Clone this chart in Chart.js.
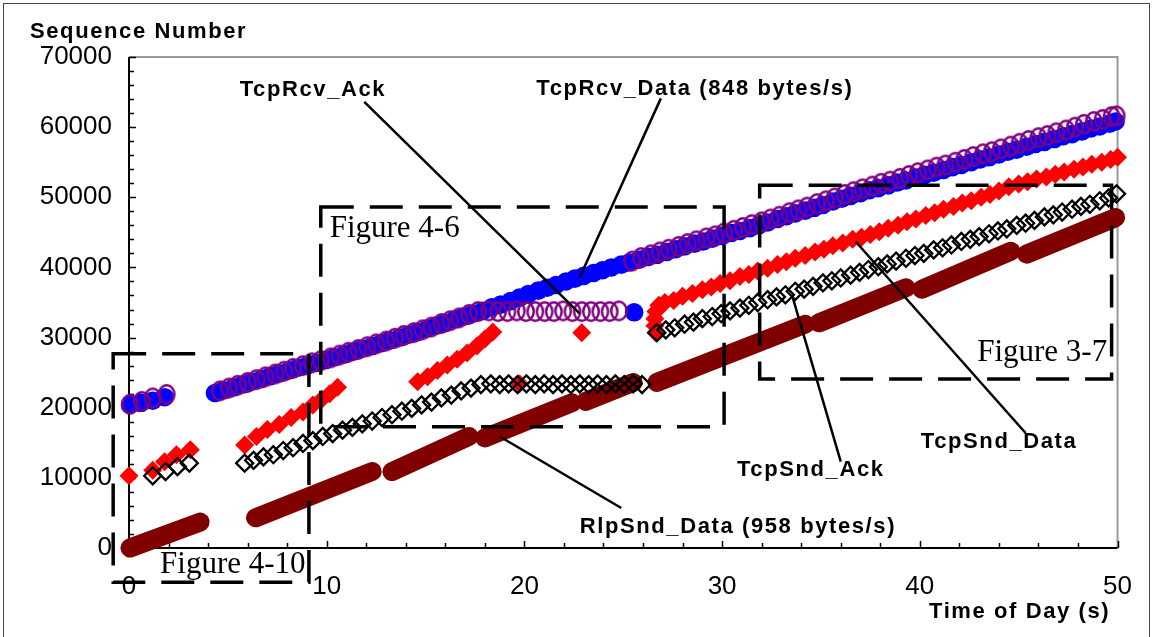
<!DOCTYPE html>
<html>
<head>
<meta charset="utf-8">
<script src="https://cdn.jsdelivr.net/npm/chart.js@4.4.1/dist/chart.umd.min.js"></script>
<style>
  html, body { margin: 0; padding: 0; background: #fff; }
  #wrap { position: relative; width: 1155px; height: 637px; overflow: hidden; }
</style>
</head>
<body>
<div id="wrap"><canvas id="chart" width="1155" height="637"></canvas></div>
<script>
// ---- Datos (tiempo en s, número de secuencia) ----

// TcpRcv_Data: círculos azules rellenos
const rcvDataT = [0.05, 0.6, 1.2, 1.8,
  4.35, 4.8, 5.3, 5.75, 6.2, 6.7, 7.15, 7.6, 8.1, 8.55, 9.0, 9.5, 9.95, 10.4, 10.9, 11.35,
  11.8, 12.3, 12.75, 13.2, 13.7, 14.15, 14.6, 15.1, 15.55, 16.0, 16.5, 16.95, 17.4, 17.9, 18.35,
  18.8, 19.3, 19.75, 20.2, 20.7, 21.15, 21.6, 22.1, 22.55, 23.0, 23.5, 23.95, 24.4, 24.9, 25.3,
  25.8, 26.25, 26.7, 27.2, 27.65, 28.1, 28.6, 29.05, 29.5, 30.0, 30.45, 30.9, 31.4, 31.85, 32.3,
  32.8, 33.25, 33.7, 34.2, 34.65, 35.1, 35.6, 36.05, 36.5, 37.0, 37.45, 37.9, 38.4, 38.85, 39.3,
  39.8, 40.25, 40.7, 41.2, 41.65, 42.1, 42.6, 43.05, 43.5, 44.0, 44.45, 44.9, 45.4, 45.85, 46.3,
  46.8, 47.25, 47.7, 48.2, 48.65, 49.1, 49.6, 49.9,
  25.55];
const rcvDataSeq = [20400, 20700, 21000, 21500,
  22100, 22500, 22900, 23300, 23700, 24100, 24500, 24900, 25300, 25700, 26000, 26400, 26800, 27200, 27600, 28000,
  28400, 28800, 29200, 29600, 30000, 30400, 30800, 31300, 31700, 32100, 32600, 33000, 33400, 33800, 34300,
  34700, 35200, 35700, 36200, 36700, 37100, 37500, 38000, 38400, 38800, 39200, 39600, 40000, 40400, 40700,
  41100, 41500, 41800, 42200, 42600, 43000, 43400, 43700, 44100, 44500, 44900, 45200, 45600, 46000, 46400,
  46900, 47300, 47700, 48100, 48500, 48900, 49400, 49800, 50200, 50600, 51000, 51300, 51700, 52100, 52400,
  52800, 53200, 53500, 53900, 54300, 54600, 55000, 55400, 55700, 56100, 56500, 56800, 57200, 57600, 57900,
  58300, 58700, 59000, 59400, 59800, 60100, 60500, 60800,
  33600];

// TcpRcv_Ack: círculos morados huecos
const rcvAckT = [0.05, 0.65, 1.2, 1.9,
  4.6, 5.05, 5.5, 6.0, 6.45, 6.9, 7.4, 7.85, 8.3, 8.8, 9.25, 9.7, 10.2, 10.65, 11.1, 11.6,
  12.05, 12.5, 13.0, 13.45, 13.9, 14.4, 14.85, 15.3, 15.8, 16.25, 16.7, 17.2, 17.65,
  18.2, 18.67, 19.14, 19.61, 20.08, 20.55, 21.02, 21.49, 21.96, 22.43, 22.9, 23.37, 23.84, 24.31, 24.78,
  25.45, 25.9, 26.4, 26.85, 27.3, 27.8, 28.25, 28.7, 29.2, 29.65, 30.1, 30.6, 31.05, 31.5, 32.0,
  32.45, 32.9, 33.4, 33.85, 34.3, 34.8, 35.25, 35.7, 36.2, 36.65, 37.1, 37.6, 38.05, 38.5, 39.0,
  39.45, 39.9, 40.4, 40.85, 41.3, 41.8, 42.25, 42.7, 43.2, 43.65, 44.1, 44.6, 45.05, 45.5, 46.0,
  46.45, 46.9, 47.4, 47.85, 48.3, 48.8, 49.25, 49.7, 49.95];
const rcvAckSeq = [20500, 20900, 21400, 21900,
  22400, 22800, 23200, 23600, 24000, 24400, 24800, 25200, 25600, 26000, 26400, 26700, 27100, 27500, 27900, 28300,
  28700, 29100, 29500, 29900, 30300, 30700, 31100, 31500, 32000, 32400, 32800, 33300, 33700,
  33800, 33700, 33700, 33800, 33700, 33700, 33700, 33700, 33800, 33700, 33700, 33700, 33700, 33700, 33800,
  40900, 41400, 41800, 42200, 42600, 43000, 43400, 43800, 44200, 44500, 44900, 45300, 45700, 46100, 46500,
  46900, 47300, 47800, 48200, 48600, 49100, 49500, 49900, 50400, 50800, 51200, 51600, 52000, 52300, 52700,
  53100, 53500, 53900, 54300, 54600, 55000, 55400, 55800, 56200, 56500, 56900, 57300, 57700, 58100, 58500,
  58800, 59200, 59600, 60000, 60400, 60800, 61100, 61500, 61600];

// TcpSnd_Data: rombos rojos rellenos
const sndDataT = [0.0,
  1.2, 1.8, 2.4, 3.1,
  5.85, 6.45, 7.0, 7.6, 8.2, 8.8, 9.3, 9.75, 10.15, 10.55,
  14.6, 15.1, 15.6, 16.1, 16.6, 17.1, 17.6, 18.0, 18.4,
  19.75, 22.9,
  26.65, 26.6, 26.6, 26.65, 26.8,
  27.1, 27.55, 28.0, 28.5, 29.0, 29.45, 29.9, 30.4, 30.9, 31.35, 31.8, 32.3, 32.8, 33.25, 33.7,
  34.2, 34.7, 35.15, 35.6, 36.1, 36.6, 37.05, 37.5, 37.95, 38.4, 38.9, 39.35, 39.8, 40.3, 40.75,
  41.2, 41.7, 42.15, 42.6, 43.1, 43.55, 44.0, 44.5, 45.0, 45.45, 45.9, 46.4, 46.85, 47.3, 47.8,
  48.25, 48.7, 49.2, 49.65, 50.0];
const sndDataSeq = [10300,
  11100, 12300, 13300, 14000,
  14700, 15900, 16900, 17600, 18600, 19400, 20400, 21200, 22000, 22900,
  23700, 24400, 25300, 26100, 26900, 27800, 28800, 29800, 30800,
  23400, 30700,
  30700, 31700, 32700, 33700, 34600,
  35000, 35300, 35900, 36300, 36800, 37200, 37700, 38100, 38700, 39000, 39500, 39900, 40400, 40800, 41300,
  41700, 42200, 42600, 43100, 43500, 44000, 44300, 44700, 45100, 45600, 46000, 46500, 46900, 47400, 47800,
  48300, 48700, 49200, 49500, 50000, 50400, 50900, 51500, 51900, 52200, 52600, 52900, 53300, 53600, 54000,
  54300, 54700, 55000, 55400, 55700];

// TcpSnd_Ack: rombos negros huecos
const sndAckT = [1.2, 1.85, 2.45, 3.05,
  5.85, 6.3, 6.8, 7.3, 7.8, 8.3, 8.8, 9.3, 9.8, 10.3, 10.8, 11.3, 11.8, 12.3, 12.8, 13.3,
  13.8, 14.3, 14.8, 15.3, 15.8, 16.3, 16.8, 17.3, 17.8,
  18.3, 18.75, 19.2, 19.65, 20.1, 20.55, 21.0, 21.45, 21.9, 22.35, 22.8, 23.25, 23.7, 24.15, 24.6,
  25.05, 25.5, 25.95,
  26.7, 27.15, 27.6, 28.1, 28.55, 29.0, 29.5, 29.95, 30.4, 30.9, 31.35, 31.8, 32.3, 32.75, 33.2,
  33.7, 34.15, 34.6, 35.1, 35.55, 36.0, 36.5, 36.95, 37.4, 37.9, 38.35, 38.8, 39.3, 39.75, 40.2,
  40.7, 41.15, 41.6, 42.1, 42.55, 43.0, 43.5, 43.95, 44.4, 44.9, 45.35, 45.8, 46.3, 46.75, 47.2,
  47.7, 48.15, 48.6, 49.1, 49.55, 49.95];
const sndAckSeq = [10300, 10900, 11600, 12100,
  12100, 12500, 13000, 13300, 13900, 14300, 14900, 15300, 15900, 16300, 16800, 17200, 17700, 18100, 18600, 19000,
  19500, 19900, 20400, 20800, 21400, 21800, 22400, 22800, 23300,
  23400, 23300, 23400, 23300, 23400, 23300, 23400, 23300, 23400, 23300, 23400, 23300, 23400, 23300, 23400,
  23300, 23400, 23300,
  30700, 31100, 31400, 31900, 32200, 32700, 33000, 33400, 33800, 34200, 34600, 35000, 35400, 35800, 36100,
  36600, 36900, 37300, 37800, 38100, 38500, 38900, 39300, 39700, 40100, 40500, 40900, 41300, 41700, 42000,
  42500, 42800, 43200, 43700, 44000, 44400, 44800, 45200, 45500, 46000, 46300, 46700, 47200, 47500, 47900,
  48300, 48700, 49000, 49500, 49900, 50500];

// RlpSnd_Data: tramos continuos (inicio/fin de cada tramo, null = hueco)
const rlpT = [0.05, 3.6, 3.9, 6.4, 12.3, 12.8, 13.3, 17.2, 17.6, 18.0, 22.4, 22.8, 23.1, 25.5, 26.1,
  26.7, 34.2, 34.5, 34.9, 39.3, 39.7, 40.1, 44.6, 45.0, 45.4, 49.9];
const rlpSeq = [0, 3700, null, 4300, 10900, null, 10900, 15900, null, 15700, 20700, null, 20900, 23600, null,
  23600, 31900, null, 32100, 37100, null, 36900, 42300, null, 41900, 47100];

// Ejes
const xLabelValues = [0, 10, 20, 30, 40, 50];
const yLabelValues = [0, 10000, 20000, 30000, 40000, 50000, 60000, 70000];

// Anotaciones (coordenadas de datos)
const seriesNotes = [
  { text: 'TcpRcv_Ack', at: [5.6, 64400], from: [11.9, 63600], to: [22.8, 33400] },
  { text: 'TcpRcv_Data (848 bytes/s)', at: [20.6, 64600], from: [26.9, 64100], to: [22.8, 38600] },
  { text: 'RlpSnd_Data (958 bytes/s)', at: [22.8, 2100], from: [24.9, 5700], to: [18.75, 15900] },
  { text: 'TcpSnd_Ack', at: [30.75, 10300], from: [36.0, 12300], to: [33.55, 35900] },
  { text: 'TcpSnd_Data', at: [40.05, 14300], from: [45.35, 16400], to: [36.75, 43700] }
];
const figureBoxes = [
  { text: 'Figure 4-10', x0: -0.8, x1: 9.1, y0: -4900, y1: 27700, at: [1.57, -3600] },
  { text: 'Figure 4-6', x0: 9.7, x1: 30.1, y0: 17300, y1: 48600, at: [10.15, 44300] },
  { text: 'Figure 3-7', x0: 31.9, x1: 49.7, y0: 24100, y1: 51700, at: [42.9, 26600] }
];

function toPoints(ts, ys) {
  return ts.map((t, i) => ({ x: t, y: ys[i] }));
}

// Círculo hueco algo ovalado, como en la figura original
function makeRing(w, h, color, lw) {
  const cv = document.createElement('canvas');
  cv.width = w + 4;
  cv.height = h + 4;
  const g = cv.getContext('2d');
  g.strokeStyle = color;
  g.lineWidth = lw;
  g.beginPath();
  g.ellipse(cv.width / 2, cv.height / 2, w / 2 - lw / 2, h / 2 - lw / 2, 0, 0, Math.PI * 2);
  g.stroke();
  return cv;
}
const purpleRing = makeRing(18, 21, '#800080', 2.5);

const BOLD = 'bold 22px "Liberation Sans", Arial, sans-serif';
const SERIF = '31px "Liberation Serif", "Times New Roman", serif';

// Marco del área, ticks interiores y títulos
const framePlugin = {
  id: 'frame',
  beforeDraw(chart) {
    const c = chart.ctx;
    c.save();
    c.strokeStyle = '#444';
    c.lineWidth = 1;
    c.strokeRect(3.5, 3.5, 1146, 700);
    c.restore();
  },
  beforeDatasetsDraw(chart) {
    const c = chart.ctx;
    const a = chart.chartArea;
    const xs = chart.scales.x;
    const ys = chart.scales.y;
    c.save();
    c.lineWidth = 2;
    c.strokeStyle = '#999';
    c.beginPath();
    c.moveTo(a.left, a.top);
    c.lineTo(a.right, a.top);
    c.lineTo(a.right, a.bottom);
    c.stroke();
    c.strokeStyle = '#000';
    c.beginPath();
    c.moveTo(a.left, a.top);
    c.lineTo(a.left, a.bottom);
    c.lineTo(a.right, a.bottom);
    c.stroke();
    c.lineWidth = 1.5;
    c.beginPath();
    ys.ticks.forEach(t => {
      const py = Math.round(ys.getPixelForValue(t.value)) + 0.5;
      const len = yLabelValues.includes(t.value) ? 7 : 5;
      c.moveTo(a.left, py);
      c.lineTo(a.left + len, py);
    });
    xs.ticks.forEach(t => {
      const px = Math.round(xs.getPixelForValue(t.value)) + 0.5;
      const len = xLabelValues.includes(t.value) ? 7 : 5;
      c.moveTo(px, a.bottom);
      c.lineTo(px, a.bottom - len);
    });
    c.stroke();
    c.restore();
  },
  afterDraw(chart) {
    const c = chart.ctx;
    c.save();
    c.fillStyle = '#000';
    c.font = BOLD;
    c.letterSpacing = '1.6px';
    c.textBaseline = 'alphabetic';
    c.textAlign = 'left';
    c.fillText('Sequence Number', 30, 38);
    c.fillText('Time of Day (s)', 929, 618);
    c.restore();
  }
};

// Etiquetas, líneas guía y recuadros discontinuos
const notesPlugin = {
  id: 'notes',
  afterDatasetsDraw(chart) {
    const c = chart.ctx;
    const xs = chart.scales.x;
    const ys = chart.scales.y;
    const px = v => xs.getPixelForValue(v);
    const py = v => ys.getPixelForValue(v);
    c.save();
    c.strokeStyle = '#000';
    c.fillStyle = '#000';

    c.lineWidth = 3.5;
    c.setLineDash([33, 16]);
    figureBoxes.forEach(b => {
      c.strokeRect(px(b.x0), py(b.y1), px(b.x1) - px(b.x0), py(b.y0) - py(b.y1));
    });
    c.setLineDash([]);
    c.font = SERIF;
    figureBoxes.forEach(b => {
      c.fillText(b.text, px(b.at[0]), py(b.at[1]));
    });

    c.lineWidth = 2.5;
    c.beginPath();
    seriesNotes.forEach(n => {
      c.moveTo(px(n.from[0]), py(n.from[1]));
      c.lineTo(px(n.to[0]), py(n.to[1]));
    });
    c.stroke();
    c.font = BOLD;
    c.letterSpacing = '1.6px';
    seriesNotes.forEach(n => {
      c.fillText(n.text, px(n.at[0]), py(n.at[1]));
    });
    c.restore();
  }
};

const ctx = document.getElementById('chart').getContext('2d');
const chart = new Chart(ctx, {
  type: 'scatter',
  data: {
    datasets: [
      {
        label: 'TcpRcv_Ack',
        data: toPoints(rcvAckT, rcvAckSeq),
        pointStyle: purpleRing,
        pointRadius: 10,
        clip: false
      },
      {
        label: 'TcpSnd_Ack',
        data: toPoints(sndAckT, sndAckSeq),
        pointStyle: 'rectRot',
        pointRadius: 8.5,
        pointBorderWidth: 2.3,
        pointBorderColor: '#000',
        pointBackgroundColor: 'rgba(0,0,0,0)',
        clip: false
      },
      {
        label: 'TcpSnd_Data',
        data: toPoints(sndDataT, sndDataSeq),
        pointStyle: 'rectRot',
        pointRadius: 9.5,
        pointBorderWidth: 0,
        pointBackgroundColor: '#ff0000',
        clip: false
      },
      {
        label: 'TcpRcv_Data',
        data: toPoints(rcvDataT, rcvDataSeq),
        pointStyle: 'circle',
        pointRadius: 9.3,
        pointBorderWidth: 0,
        pointBackgroundColor: '#0000ff',
        clip: false
      },
      {
        label: 'RlpSnd_Data',
        data: toPoints(rlpT, rlpSeq),
        showLine: true,
        spanGaps: false,
        borderColor: '#800000',
        borderWidth: 19,
        borderCapStyle: 'round',
        borderJoinStyle: 'round',
        pointRadius: 0,
        clip: false
      }
    ]
  },
  options: {
    responsive: false,
    animation: false,
    events: [],
    layout: { padding: { left: 0, right: 36, top: 57, bottom: 0 } },
    plugins: {
      legend: { display: false },
      tooltip: { enabled: false }
    },
    scales: {
      x: {
        type: 'linear',
        min: 0,
        max: 50,
        afterFit: s => { s.height = 89; },
        grid: { display: false, drawTicks: false },
        border: { display: false },
        ticks: {
          stepSize: 2,
          autoSkip: false,
          maxRotation: 0,
          padding: 23,
          color: '#000',
          font: { family: '"Liberation Sans", Arial, sans-serif', size: 26 },
          callback: v => xLabelValues.includes(v) ? String(v) : ''
        }
      },
      y: {
        type: 'linear',
        min: 0,
        max: 70000,
        afterFit: s => { s.width = 129; },
        grid: { display: false, drawTicks: false },
        border: { display: false },
        ticks: {
          stepSize: 2000,
          autoSkip: false,
          padding: 17,
          color: '#000',
          font: { family: '"Liberation Sans", Arial, sans-serif', size: 26 },
          callback: v => yLabelValues.includes(v) ? String(v) : ''
        }
      }
    }
  },
  plugins: [framePlugin, notesPlugin]
});
</script>
</body>
</html>
